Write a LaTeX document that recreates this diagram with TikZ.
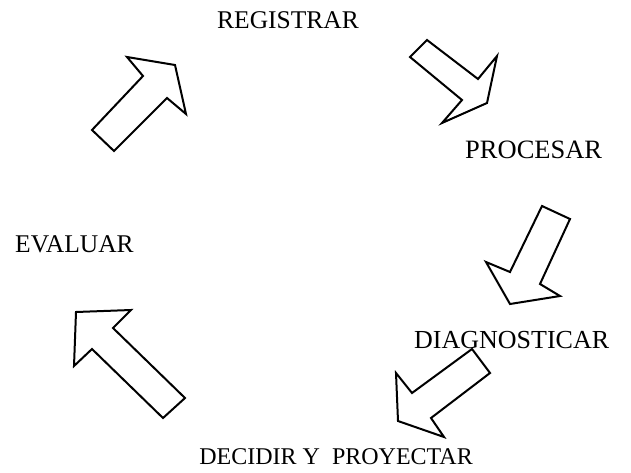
\documentclass[tikz,border=0pt]{standalone}
\usepackage{fontspec}
\setmainfont{Liberation Serif}
\begin{document}
\begin{tikzpicture}[x=1pt,y=-1pt,
  lbl/.style={inner sep=0pt,font=\fontsize{25.5}{29}\selectfont},
  bigarrow/.style={draw=black,line width=2pt,line join=miter,fill=white}]
\useasboundingbox (0,0) rectangle (631,472);
% labels
\node[lbl,anchor=base west] (reg) at (217,28.3) {REGISTRAR};
\node[lbl,anchor=base west,font=\fontsize{26.5}{30}\selectfont] (pro) at (465,158) {PROCESAR};
\node[lbl,anchor=base west] (eva) at (15,252) {EVALUAR};
\node[lbl,anchor=base west,font=\fontsize{26}{30}\selectfont] (dia) at (414,348) {DIAGNOSTICAR};
\node[lbl,anchor=base east,font=\fontsize{24}{28}\selectfont] (dec) at (473,464.3) {DECIDIR Y\ \ PROYECTAR};
% block arrows
\draw[bigarrow] (92,130) -- (114,151) -- (167,98) -- (186,114) -- (175,65) -- (127,57) -- (143,76) -- cycle;
\draw[bigarrow] (410,57) -- (427,40) -- (478,79) -- (497,56) -- (487,103) -- (442,123) -- (462,100) -- cycle;
\draw[bigarrow] (542,206) -- (570,219) -- (540,284) -- (560,296) -- (510,304) -- (486,262) -- (510,272) -- cycle;
\draw[bigarrow] (472,349) -- (490,373) -- (431,418) -- (444,437) -- (398,421) -- (396,373) -- (412,393) -- cycle;
\draw[bigarrow] (76,312) -- (131,310) -- (113,328) -- (185,398) -- (163,418) -- (92,349) -- (74,366) -- cycle;
\end{tikzpicture}
\end{document}
